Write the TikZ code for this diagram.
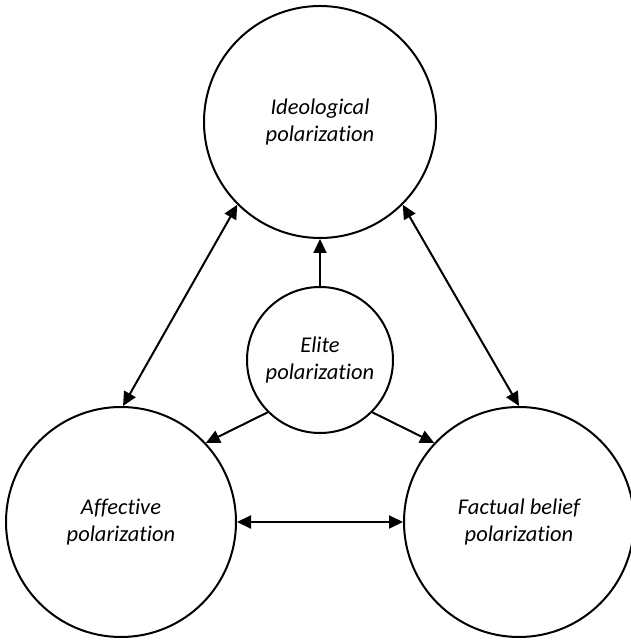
\documentclass[tikz,border=0pt]{standalone}
\usepackage{fontspec}
\setmainfont{Carlito}[Ligatures=NoCommon]
\usetikzlibrary{arrows.meta}
\tikzset{
  bubble/.style={circle, draw=black, line width=2pt, inner sep=0pt, align=center,
    font=\fontsize{22.5}{27}\selectfont\itshape},
  link/.style={line width=2pt, -{Triangle[length=14pt,width=13pt]}},
  dlink/.style={line width=2pt, {Triangle[length=14pt,width=13pt]}-{Triangle[length=14pt,width=13pt]}}
}
\begin{document}
\begin{tikzpicture}[x=1pt,y=1pt]
\useasboundingbox (0,0) rectangle (630,640);
\node[bubble, minimum size=232pt] (ideo) at (320,518) {Ideological\\polarization};
\node[bubble, minimum size=146pt] (elite) at (320,280) {Elite\\polarization};
\node[bubble, minimum size=230pt] (aff) at (121,118) {Affective\\polarization};
\node[bubble, minimum size=230pt] (fact) at (519,118) {Factual belief\\polarization};
\draw[link] (elite.north) -- (ideo.south);
\draw[link] (elite.225) -- (aff.43);
\draw[link] (elite.-45) -- (fact.137);
\draw[dlink] (ideo.225) -- (aff.89);
\draw[dlink] (ideo.-45) -- (fact.90);
\draw[dlink] (aff.east) -- (fact.west);
\end{tikzpicture}
\end{document}
